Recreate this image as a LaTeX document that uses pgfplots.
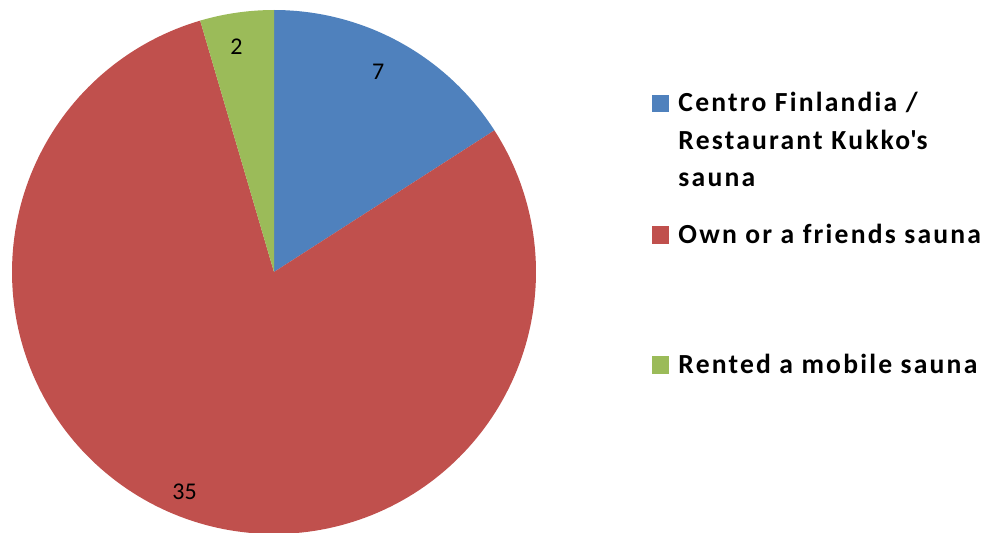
\documentclass[border=0pt]{standalone}
\usepackage{fontspec}
\setmainfont{Carlito}
\newfontfamily\legfont[LetterSpace=8]{Carlito}
\usepackage{pgfplots}
\usepackage{pgfplotstable}
\pgfplotsset{compat=1.18}
\definecolor{pieblue}{HTML}{4F81BD}
\definecolor{piered}{HTML}{C0504D}
\definecolor{piegreen}{HTML}{9BBB59}

\pgfplotstableread{
value
7
35
2
}\piedata
\pgfplotstablegetelem{0}{value}\of\piedata\edef\va{\pgfplotsretval}
\pgfplotstablegetelem{1}{value}\of\piedata\edef\vb{\pgfplotsretval}
\pgfplotstablegetelem{2}{value}\of\piedata\edef\vc{\pgfplotsretval}
\pgfmathsetmacro\total{\va+\vb+\vc}
\pgfmathsetmacro\aA{90}
\pgfmathsetmacro\aB{\aA-360*\va/\total}
\pgfmathsetmacro\aC{\aB-360*\vb/\total}
\pgfmathsetmacro\aD{\aC-360*\vc/\total}
\pgfmathsetmacro\mA{(\aA+\aB)/2}
\pgfmathsetmacro\mB{(\aB+\aC)/2}
\pgfmathsetmacro\mC{(\aC+\aD)/2}

\newcommand\legtext[2]{\parbox[t]{8cm}{\legfont\bfseries\fontsize{13.8}{18.75}\selectfont\rule{0pt}{10pt}#1\rule[-#2]{0pt}{#2}}}

\begin{document}
\begin{tikzpicture}
\begin{axis}[
  x=131pt, y=131pt,
  xmin=-1.0458, xmax=2.7405,
  ymin=-0.9924, ymax=1.0382,
  hide axis,
  legend image code/.code={\fill[#1] (0pt,-0.25pt) rectangle (8.75pt,8.5pt);},
  legend style={
    draw=none, fill=none, inner sep=0pt, outer sep=0pt,
    at={(axis cs:1.4427,0.6889)}, anchor=north west,
    column sep=4.5pt, row sep=0pt,
    nodes={inner sep=0pt, text depth={}, anchor=base west},
  },
]
\addplot[fill=pieblue, draw=none, domain=\aB:\aA, samples=80, variable=\t]
  ({cos(\t)},{sin(\t)}) -- (axis cs:0,0) -- cycle;
\addlegendentry{\legtext{Centro Finlandia /\newline Restaurant Kukko\textquotesingle s\newline sauna}{18.25pt}}
\addplot[fill=piered, draw=none, domain=\aC:\aB, samples=200, variable=\t]
  ({cos(\t)},{sin(\t)}) -- (axis cs:0,0) -- cycle;
\addlegendentry{\legtext{Own or a friends sauna}{55pt}}
\addplot[fill=piegreen, draw=none, domain=\aD:\aC, samples=20, variable=\t]
  ({cos(\t)},{sin(\t)}) -- (axis cs:0,0) -- cycle;
\addlegendentry{\legtext{Rented a mobile sauna}{0pt}}

\node[font=\fontsize{12}{14}\selectfont, xshift=-2.5pt] at (axis cs:{0.87*cos(\mA)},{0.87*sin(\mA)}) {\va};
\node[font=\fontsize{12}{14}\selectfont, xshift=-4pt, yshift=-0.5pt] at (axis cs:{0.89*cos(\mB)},{0.89*sin(\mB)}) {\vb};
\node[font=\fontsize{12}{14}\selectfont, xshift=-2.5pt] at (axis cs:{0.87*cos(\mC)},{0.87*sin(\mC)}) {\vc};
\end{axis}
\pgfresetboundingbox
\useasboundingbox (current axis.south west) rectangle (current axis.north east);
\end{tikzpicture}
\end{document}
